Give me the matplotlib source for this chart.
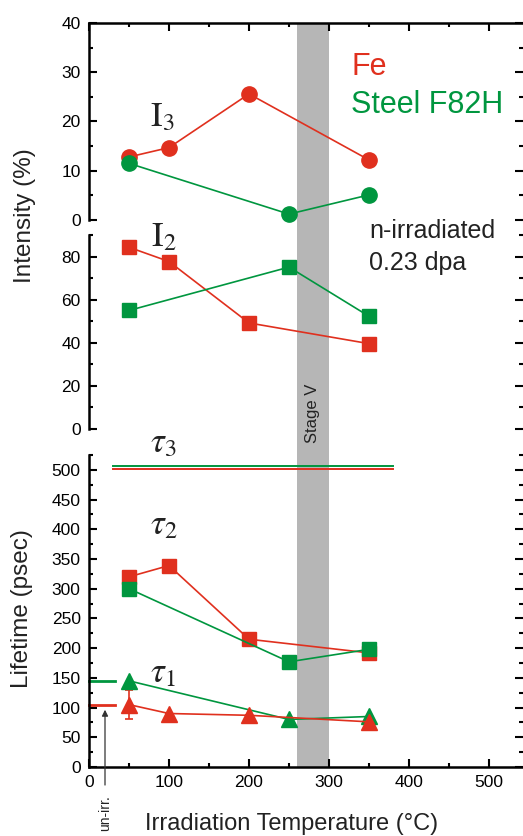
import numpy as np
import matplotlib
matplotlib.use("Agg")
import matplotlib.pyplot as plt
from matplotlib.ticker import MultipleLocator

plt.rcParams['font.family'] = ['Liberation Sans', 'DejaVu Sans']
plt.rcParams['mathtext.fontset'] = 'stix'

RED = '#E0301E'
GREEN = '#00963F'

# irradiation temperatures (°C)
t_fe = [50, 100, 200, 350]
t_steel = [50, 250, 350]

# intensities (%)
i3_fe = [12.8, 14.7, 25.6, 12.2]
i3_steel = [11.5, 1.2, 5.1]
i2_fe = [84.3, 77.7, 49.2, 39.6]
i2_steel = [55.0, 75.1, 52.3]

# lifetimes (psec)
tau3_span = [30, 380]
tau3_fe = [501, 501]
tau3_steel = [506, 506]
tau2_fe = [320, 339, 215, 192]
tau2_steel = [300, 177, 198]
tau1_fe = [105, 90, 87, 76]
tau1_fe_err = [24, 0, 0, 0]
tau1_steel = [145, 80, 85]

# un-irradiated reference lifetimes
unirr_span = [0, 32]
unirr_fe = 104
unirr_steel = 144

stage_v = (260, 300)

W, H = 523, 836
fig = plt.figure(figsize=(W / 100, H / 100), dpi=100)

TOP3, BOT3 = 23, 220
TOP2, BOT2 = 235, 429
TOPL, BOTL = 455, 767


def make_ax(top_px, bot_px):
    left, right = 89 / W, 1.0
    return fig.add_axes([left, 1 - bot_px / H, right - left, (bot_px - top_px) / H])


ax3 = make_ax(TOP3, BOT3)
ax2 = make_ax(TOP2, BOT2)
axl = make_ax(TOPL, BOTL)

for ax in (ax3, ax2, axl):
    ax.set_xlim(0, 542.5)
    ax.patch.set_alpha(0)
    for s in ('top', 'bottom', 'right'):
        ax.spines[s].set_visible(False)
    ax.spines['left'].set_linewidth(1.8)
    ax.tick_params(axis='y', which='both', direction='in', left=True, right=True,
                   labelsize=12.5, width=1.5, pad=6)
    ax.tick_params(axis='y', which='major', length=6)
    ax.tick_params(axis='y', which='minor', length=3)
    ax.xaxis.set_major_locator(MultipleLocator(100))
    ax.xaxis.set_minor_locator(MultipleLocator(50))

# Stage V band: drawn from the first (top) panel so it sits under every curve
ax3.axvspan(*stage_v, ymin=-(BOTL - BOT3) / (BOT3 - TOP3), ymax=1, color='#B6B6B6',
            lw=0, zorder=0, clip_on=False)

ax3.spines['top'].set_visible(True)
ax3.spines['top'].set_linewidth(1.8)
ax3.tick_params(axis='x', which='both', direction='in', top=True, bottom=False,
                labelbottom=False, width=1.5)
ax3.tick_params(axis='x', which='major', length=6)
ax3.tick_params(axis='x', which='minor', length=3)
ax2.tick_params(axis='x', which='both', bottom=False, labelbottom=False)
axl.spines['bottom'].set_visible(True)
axl.spines['bottom'].set_linewidth(1.8)
axl.tick_params(axis='x', which='both', direction='in', top=False, bottom=True,
                labelsize=12.5, width=1.5, pad=6)
axl.tick_params(axis='x', which='major', length=6)
axl.tick_params(axis='x', which='minor', length=3)

ax3.set_ylim(0, 40)
ax3.yaxis.set_major_locator(MultipleLocator(10))
ax3.yaxis.set_minor_locator(MultipleLocator(5))
ax2.set_ylim(0, 90)
ax2.yaxis.set_major_locator(MultipleLocator(20))
ax2.yaxis.set_minor_locator(MultipleLocator(10))
axl.set_ylim(0, 525)
axl.yaxis.set_major_locator(MultipleLocator(50))
axl.yaxis.set_minor_locator(MultipleLocator(25))

lw = 1.2
# I3
ax3.plot(t_fe, i3_fe, '-o', color=RED, lw=lw, ms=11, clip_on=False)
ax3.plot(t_steel, i3_steel, '-o', color=GREEN, lw=lw, ms=11, clip_on=False)
# I2
ax2.plot(t_fe, i2_fe, '-s', color=RED, lw=lw, ms=9.5, clip_on=False)
ax2.plot(t_steel, i2_steel, '-s', color=GREEN, lw=lw, ms=9.5, clip_on=False)
# tau3
axl.plot(tau3_span, tau3_fe, '-', color=RED, lw=1.4)
axl.plot(tau3_span, tau3_steel, '-', color=GREEN, lw=1.4)
# tau2
axl.plot(t_fe, tau2_fe, '-s', color=RED, lw=lw, ms=9.5)
axl.plot(t_steel, tau2_steel, '-s', color=GREEN, lw=lw, ms=9.5)
# tau1
axl.errorbar(t_fe, tau1_fe, yerr=tau1_fe_err, fmt='-^', color=RED, lw=lw, ms=11,
             capsize=3, elinewidth=1.2, capthick=1.2)
axl.plot(t_steel, tau1_steel, '-^', color=GREEN, lw=lw, ms=11)
# un-irradiated values
axl.plot(unirr_span, [unirr_fe] * 2, '-', color=RED, lw=2, clip_on=False)
axl.plot(unirr_span, [unirr_steel] * 2, '-', color=GREEN, lw=2, clip_on=False)
axl.annotate('', xy=(20, unirr_fe - 3), xytext=(20, -35), xycoords='data',
             arrowprops=dict(arrowstyle='-|>', color='#333333', lw=0.9,
                             mutation_scale=9), annotation_clip=False)
axl.text(20, -48, 'un-irr.', rotation=90, ha='center', va='top', fontsize=10,
         color='#222222', clip_on=False)

# curve labels
serif = dict(fontsize=25, color='#222222', ha='center', va='center', clip_on=False)
ax3.text(92, 21, r'$\mathrm{I}_3$', **serif)
ax2.text(94, 89, r'$\mathrm{I}_2$', **serif)
axl.text(93, 545, r'$\tau_3$', **serif)
axl.text(93, 408, r'$\tau_2$', **serif)
axl.text(93, 158, r'$\tau_1$', **serif)

ax3.text(328, 31, 'Fe', color=RED, fontsize=22, ha='left', va='center')
ax3.text(328, 23.3, 'Steel F82H', color=GREEN, fontsize=22, ha='left', va='center')
ax2.text(350, 92, 'n-irradiated', color='#222222', fontsize=18, ha='left',
         va='center', clip_on=False)
ax2.text(350, 77, '0.23 dpa', color='#222222', fontsize=18, ha='left', va='center')
ax2.text(280, 7.5, 'Stage V', rotation=90, ha='center', va='center', fontsize=12,
         color='#222222')

fig.text(25 / W, 1 - 216 / H, 'Intensity (%)', rotation=90, ha='center', va='center',
         fontsize=17.5, color='#222222')
fig.text(22 / W, 1 - 609 / H, 'Lifetime (psec)', rotation=90, ha='center', va='center',
         fontsize=17.5, color='#222222')
fig.text(292 / W, 1 - 824 / H, 'Irradiation Temperature (°C)', ha='center', va='center',
         fontsize=17, color='#222222')

fig.savefig('out.png', dpi=100)
